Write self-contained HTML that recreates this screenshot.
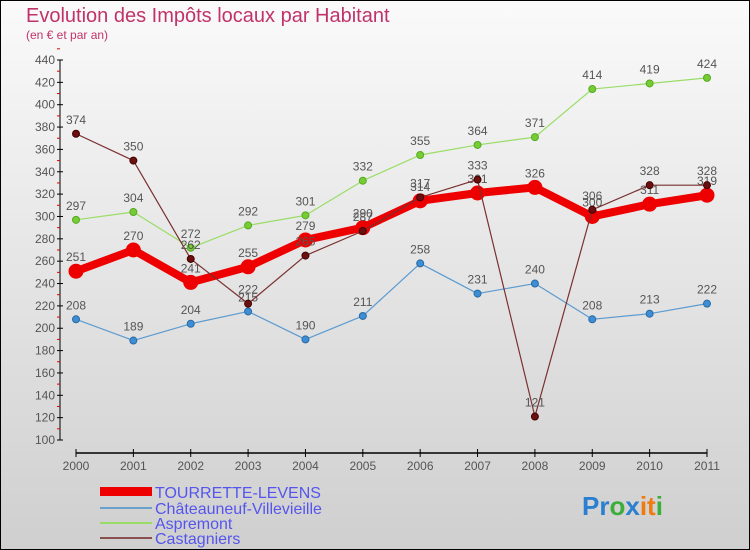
<!DOCTYPE html>
<html><head><meta charset="utf-8"><style>
body{margin:0}
#c{width:750px;height:550px;position:relative;overflow:hidden;font-family:"Liberation Sans",sans-serif;}
</style></head><body>
<div id="c">
<svg id="s" width="750" height="550" xmlns="http://www.w3.org/2000/svg">
<defs><linearGradient id="bg" x1="0" y1="0" x2="0" y2="1"><stop offset="0" stop-color="#fafafa"/><stop offset="1" stop-color="#cfcfcf"/></linearGradient></defs>
<rect x="0.5" y="0.5" width="749" height="549" fill="url(#bg)" stroke="#000"/>
<text x="26" y="22" font-size="20" fill="#c0336a">Evolution des Impôts locaux par Habitant</text>
<text x="26" y="39" font-size="12" fill="#c0336a">(en € et par an)</text>
<g id="axes"></g><g id="series"></g>
<g font-size="16" fill="#5555ee">
<rect x="100" y="487" width="52" height="9" fill="#e00"/>
<text x="155" y="498">TOURRETTE-LEVENS</text>
<rect x="100" y="507" width="52" height="2" fill="#6aa0cc"/>
<text x="155" y="514">Châteauneuf-Villevieille</text>
<rect x="100" y="522" width="52" height="2" fill="#99dd66"/>
<text x="155" y="529">Aspremont</text>
<rect x="100" y="537" width="52" height="2" fill="#8a5050"/>
<text x="155" y="544">Castagniers</text>
</g>
<text x="582" y="515" font-size="26" font-weight="bold"><tspan fill="#2a7fd0">Pr</tspan><tspan fill="#3cae3c">o</tspan><tspan fill="#2a7fd0">x</tspan><tspan fill="#f07a10">it</tspan><tspan fill="#3cae3c">i</tspan></text>
</svg></div>
<script>
const years=[2000,2001,2002,2003,2004,2005,2006,2007,2008,2009,2010,2011];
const yTicks=[100,120,140,160,180,200,220,240,260,280,300,320,340,360,380,400,420,440];
const tourrette=[251,270,241,255,279,290,314,321,326,300,311,319];
const chateauneuf=[208,189,204,215,190,211,258,231,240,208,213,222];
const aspremont=[297,304,272,292,301,332,355,364,371,414,419,424];
const castagniers=[374,350,262,222,265,287,317,333,121,306,328,328];
const NS="http://www.w3.org/2000/svg";
function X(i){return 76+i*(707-76)/(years.length-1);}
function Y(v){return 440-(v-100)*380/340;}
function mk(t,a,p){const e=document.createElementNS(NS,t);for(const k in a)e.setAttribute(k,a[k]);p.appendChild(e);return e;}
const ax=document.getElementById('axes');
const ya=mk('line',{x1:60,y1:Y(440),x2:60,y2:Y(100),stroke:'#000'},ax);


yTicks.forEach(v=>{
 mk('line',{x1:57,x2:63,y1:Y(v),y2:Y(v),stroke:'#000'},ax);
 mk('line',{x1:57,x2:60,y1:Y(v+10),y2:Y(v+10),stroke:'#d00'},ax);
 const t=mk('text',{x:55,y:Y(v)+4,'font-size':12,'text-anchor':'end',fill:'#555'},ax);t.textContent=v;
 
 
});
const xa=mk('line',{x1:76,y1:453,x2:707,y2:453,stroke:'#000','stroke-width':1.5},ax);


years.forEach((y,i)=>{
 mk('line',{x1:X(i),x2:X(i),y1:449,y2:457,stroke:'#000'},ax);
 const t=mk('text',{x:X(i),y:470,'font-size':12,'text-anchor':'middle',fill:'#555'},ax);t.textContent=y;
 
 
});
const sg=document.getElementById('series');
function draw(data,name,color,w,r,dot,stroke){
 const g=mk('g',{},sg);
 
 
 const l=mk('polyline',{points:data.map((v,i)=>X(i)+','+Y(v)).join(' '),fill:'none',stroke:color,'stroke-width':w,'stroke-linejoin':'round'},g);
 
 
 data.forEach((v,i)=>{
  const c=mk('circle',{cx:X(i),cy:Y(v),r:r,fill:dot,stroke:stroke,'stroke-width':1},g);
  
  
  const t=mk('text',{x:X(i),y:Y(v)-10,'font-size':12,'text-anchor':'middle',fill:'#555'},g);t.textContent=v;
  
  
 });
}
draw(chateauneuf,'chateauneuf','#5b9bd0',1.2,3.5,'#3d8ed6','#2a6aa0');
draw(aspremont,'aspremont','#99dd66',1.2,3.5,'#77cc33','#55aa22');
draw(tourrette,'tourrette','#ee0000',8,7,'#ee0000','#ee0000');
draw(castagniers,'castagniers','#7a3030',1.2,3.5,'#6a1010','#400');
</script>
</body></html>
